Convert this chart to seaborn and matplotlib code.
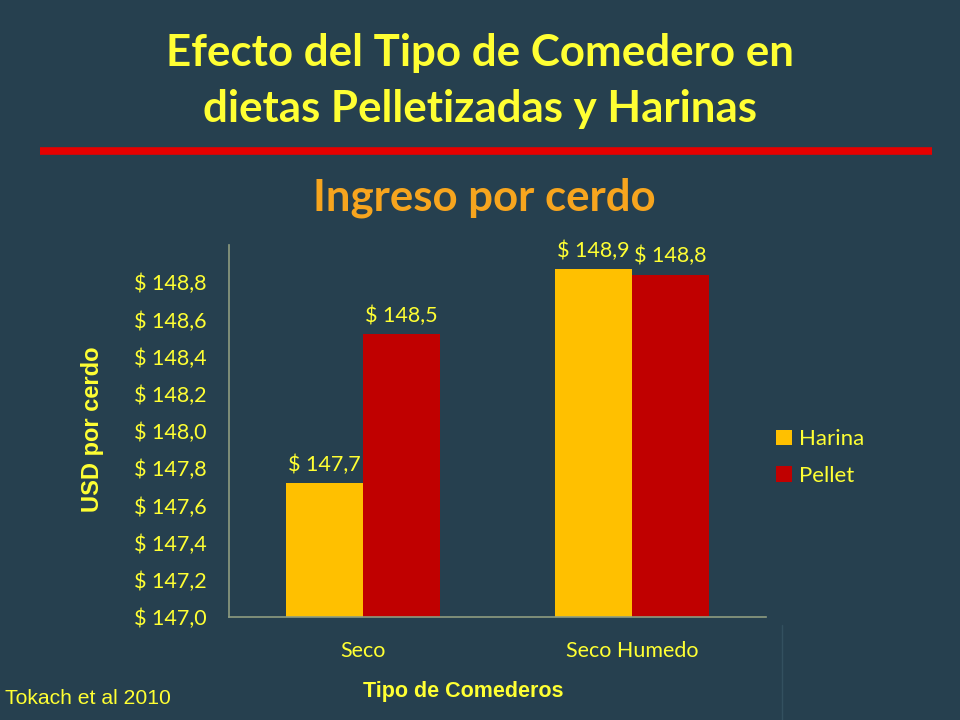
import matplotlib
matplotlib.use("Agg")
import matplotlib.pyplot as plt
import seaborn as sns
import pandas as pd
from matplotlib.lines import Line2D
from matplotlib.patches import Patch

categories = ["Seco", "Seco Humedo"]
series = ["Harina", "Pellet"]
harina = [147.72, 148.87]
pellet = [148.52, 148.84]
value_labels_harina = ["$ 147,7", "$ 148,9"]
value_labels_pellet = ["$ 148,5", "$ 148,8"]
yticks = [147.0, 147.2, 147.4, 147.6, 147.8, 148.0, 148.2, 148.4, 148.6, 148.8]
ytick_labels = ["$ 147,0", "$ 147,2", "$ 147,4", "$ 147,6", "$ 147,8",
                "$ 148,0", "$ 148,2", "$ 148,4", "$ 148,6", "$ 148,8"]

BG = "#26404f"
YEL = "#ffff33"
ORANGE = "#f7a51e"
AXC = "#8e9c80"
colors = {"Harina": "#ffc000", "Pellet": "#c00000"}

df = pd.DataFrame({
    "Tipo": categories * 2,
    "Serie": ["Harina"] * 2 + ["Pellet"] * 2,
    "Valor": harina + pellet,
})

sns.set_style("white")
plt.rcParams['font.family'] = ['Lato', 'DejaVu Sans']
ARIAL = ["Liberation Sans", "DejaVu Sans"]

fig = plt.figure(figsize=(9.6, 7.2), dpi=100, facecolor=BG)
ax = fig.add_axes([229 / 960, 1 - 617 / 720, 537 / 960, 372 / 720])
ax.set_facecolor(BG)

sns.barplot(data=df, x="Tipo", y="Valor", hue="Serie", order=categories,
            hue_order=series, palette=colors, width=0.573, gap=0,
            saturation=1, ax=ax, legend=False, linewidth=0)

ax.set_ylim(147.0, 149.0)
ax.set_xlim(-0.5, 1.5)
ax.set_yticks(yticks)
ax.set_yticklabels(ytick_labels, color=YEL, fontsize=15.5)
ax.set_xticks([0, 1])
ax.set_xticklabels(categories, color=YEL, fontsize=15.5)
ax.tick_params(axis="y", length=5.8, color=AXC, width=1, pad=10.5)
ax.tick_params(axis="x", length=0, pad=17)
ax.set_xlabel("")
ax.set_ylabel("")
for s in ["top", "right"]:
    ax.spines[s].set_visible(False)
for s in ["left", "bottom"]:
    ax.spines[s].set_color(AXC)
    ax.spines[s].set_linewidth(1.2)
ax.set_xticks([-0.5, 0.5, 1.5], minor=True)
ax.tick_params(axis="x", which="minor", length=4.5, color=AXC, direction="out")

for cont, labs in zip(ax.containers, [value_labels_harina, value_labels_pellet]):
    ax.bar_label(cont, labels=labs, color=YEL, fontsize=15.5, padding=6)

handles = [Patch(facecolor=colors[s], edgecolor="none", label=s) for s in series]
leg = fig.legend(handles=handles, loc="center left", bbox_to_anchor=(756 / 960, 1 - 457.5 / 720),
                 frameon=False, fontsize=16, handlelength=0.7, handleheight=0.7,
                 handletextpad=0.35, labelspacing=0.75)
for t in leg.get_texts():
    t.set_color(YEL)

fig.text(0.5, 1 - 53 / 720, "Efecto del Tipo de Comedero en", ha="center", va="center",
         color=YEL, fontsize=31.6, fontweight="bold")
fig.text(0.5, 1 - 109 / 720, "dietas Pelletizadas y Harinas", ha="center", va="center",
         color=YEL, fontsize=31.6, fontweight="bold")
fig.add_artist(Line2D([40 / 960, 932 / 960], [1 - 151 / 720, 1 - 151 / 720],
                      color="#e60000", linewidth=5.5, transform=fig.transFigure,
                      solid_capstyle="butt"))
fig.text(484 / 960, 1 - 198 / 720, "Ingreso por cerdo", ha="center", va="center",
         color=ORANGE, fontsize=31.5, fontweight="bold")

fig.text(92 / 960, 1 - 429 / 720, "USD por cerdo", rotation=90, ha="center", va="center",
         color=YEL, fontsize=17, fontweight="bold", family=ARIAL)
fig.text(463 / 960, 1 - 692 / 720, "Tipo de Comederos", ha="center", va="center",
         color=YEL, fontsize=15.5, fontweight="bold", family=ARIAL)
fig.text(5 / 960, 1 - 699 / 720, "Tokach et al 2010", ha="left", va="center",
         color=YEL, fontsize=15.2, family=ARIAL)

fig.add_artist(Line2D([782 / 960, 782 / 960], [0, 1 - 625 / 720], color="#33505f",
                      linewidth=1, transform=fig.transFigure))

fig.savefig("out.png", dpi=100, facecolor=BG)
